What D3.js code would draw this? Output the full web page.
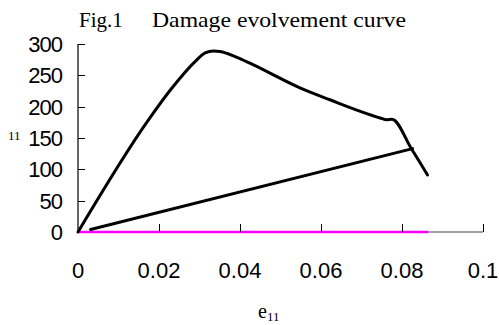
<!DOCTYPE html>
<html>
<head>
<meta charset="utf-8">
<script src="https://cdn.jsdelivr.net/npm/d3@7"></script>
<style>
body { margin: 0; background: #fff; }
</style>
</head>
<body>
<script>
// values
var damageStrain = [0, 0.0174, 0.0231, 0.0289, 0.0314, 0.0334, 0.0351, 0.0388, 0.0432, 0.0548, 0.0622, 0.0746, 0.0762, 0.0775, 0.0824, 0.0863];
var damageStress = [0, 179, 229, 272, 286, 289, 288, 280, 267, 230, 211, 182, 179, 180, 132, 91];
var unloadStrain = [0.0031, 0.0826];
var unloadStress = [4, 133];
var zeroStrain = [0, 0.0865];
var zeroStress = [0, 0];
var xTicks = [0, 0.02, 0.04, 0.06, 0.08, 0.1];
var xTickLabels = ["0", "0.02", "0.04", "0.06", "0.08", "0.1"];
var yTicks = [0, 50, 100, 150, 200, 250, 300];

var width = 499, height = 325;

var svg = d3.select("body").append("svg")
    .attr("width", width)
    .attr("height", height);

var x = d3.scaleLinear().domain([0, 0.1]).range([78, 483]);
var y = d3.scaleLinear().domain([0, 300]).range([232, 44]);

var zip = function(a, b){
    return a.map(function(v, i){ return [v, b[i]]; });
};

// title
svg.append("text")
    .attr("x", 79).attr("y", 27)
    .attr("font-family", "Liberation Serif, Times New Roman, serif")
    .attr("font-size", 21)
    .text("Fig.1");
svg.append("text")
    .attr("x", 152).attr("y", 27)
    .attr("font-family", "Liberation Serif, Times New Roman, serif")
    .attr("font-size", 21)
    .attr("textLength", 254)
    .attr("lengthAdjust", "spacingAndGlyphs")
    .text("Damage evolvement curve");

// x axis line (grey, mostly hidden by the magenta series)
var xAxis = d3.axisBottom(x)
    .tickValues(xTicks)
    .tickSize(0)
    .tickFormat(function(){ return ""; });
var gx = svg.append("g")
    .attr("transform", "translate(0," + y(0) + ")")
    .call(xAxis);
gx.select(".domain").attr("stroke", "#808080").attr("stroke-width", 1.5)
    .attr("d", "M" + x(0) + ",0H" + x(0.1));

svg.selectAll(".xlab")
    .data(xTicks)
    .enter().append("text")
    .attr("class", "xlab")
    .attr("x", function(d){ return x(d); })
    .attr("y", 278)
    .attr("text-anchor", "middle")
    .attr("font-family", "Liberation Sans, Arial, sans-serif")
    .attr("font-size", 22)
    .text(function(d, i){ return xTickLabels[i]; });

// y axis
var yAxis = d3.axisLeft(y)
    .tickValues(yTicks)
    .tickSize(0)
    .tickFormat(function(){ return ""; });
var gy = svg.append("g")
    .attr("transform", "translate(" + x(0) + ",0)")
    .call(yAxis);
gy.select(".domain").attr("stroke", "#000").attr("stroke-width", 1.2)
    .attr("d", "M0," + y(0) + "V" + y(300));

svg.selectAll(".ylab")
    .data(yTicks)
    .enter().append("text")
    .attr("class", "ylab")
    .attr("x", 62)
    .attr("y", function(d){ return y(d) + 8; })
    .attr("text-anchor", "end")
    .attr("letter-spacing", -1)
    .attr("font-family", "Liberation Sans, Arial, sans-serif")
    .attr("font-size", 22)
    .text(function(d){ return d; });

// axis titles
svg.append("text")
    .attr("x", 8).attr("y", 140)
    .attr("font-family", "Liberation Serif, Times New Roman, serif")
    .attr("font-size", 13)
    .text("11");

var xt = svg.append("text")
    .attr("x", 258).attr("y", 318)
    .attr("font-family", "Liberation Serif, Times New Roman, serif")
    .attr("font-size", 20)
    .text("e");
xt.append("tspan")
    .attr("font-size", 13)
    .attr("dy", 3)
    .text("11");

// curves
var line = d3.line()
    .x(function(d){ return x(d[0]); })
    .y(function(d){ return y(d[1]); });

svg.append("path")
    .datum(zip(zeroStrain, zeroStress))
    .attr("fill", "none")
    .attr("stroke", "#ff00ff")
    .attr("stroke-width", 2.5)
    .attr("d", line);

svg.append("path")
    .datum(zip(unloadStrain, unloadStress))
    .attr("fill", "none")
    .attr("stroke", "#000")
    .attr("stroke-width", 3)
    .attr("stroke-linecap", "round")
    .attr("d", line);

svg.append("path")
    .datum(zip(damageStrain, damageStress))
    .attr("fill", "none")
    .attr("stroke", "#000")
    .attr("stroke-width", 3)
    .attr("stroke-linejoin", "round")
    .attr("stroke-linecap", "round")
    .attr("d", line.curve(d3.curveMonotoneX));

// inward tick marks, drawn on top
svg.selectAll(".xtick")
    .data(xTicks.slice(1))
    .enter().append("line")
    .attr("class", "xtick")
    .attr("x1", function(d){ return Math.round(x(d)) + 0.5; })
    .attr("x2", function(d){ return Math.round(x(d)) + 0.5; })
    .attr("y1", y(0))
    .attr("y2", y(0) - 8)
    .attr("stroke", "#000")
    .attr("stroke-width", 1)
    .attr("shape-rendering", "crispEdges");

svg.selectAll(".ytick")
    .data(yTicks.slice(1))
    .enter().append("line")
    .attr("class", "ytick")
    .attr("x1", x(0))
    .attr("x2", x(0) + 7)
    .attr("y1", function(d){ return Math.round(y(d)) + 0.5; })
    .attr("y2", function(d){ return Math.round(y(d)) + 0.5; })
    .attr("stroke", "#000")
    .attr("stroke-width", 1)
    .attr("shape-rendering", "crispEdges");
</script>
</body>
</html>
